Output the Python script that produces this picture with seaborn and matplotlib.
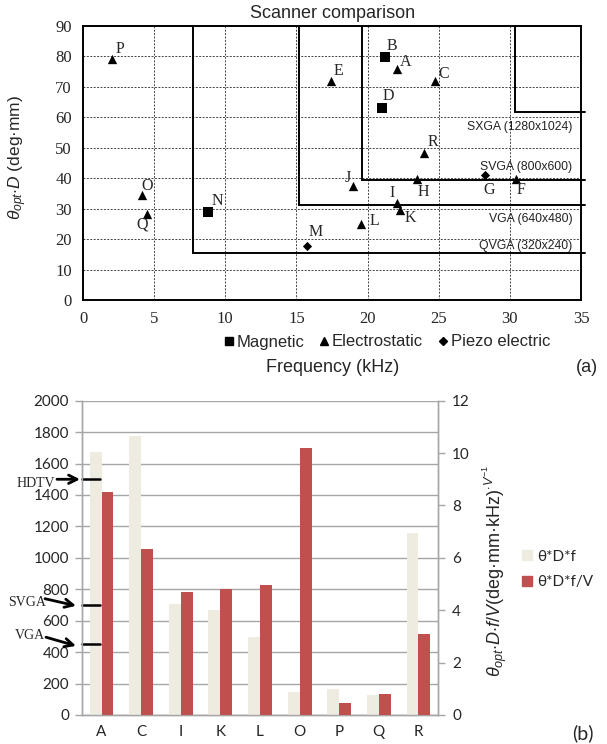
import matplotlib
matplotlib.use("Agg")
import matplotlib.pyplot as plt
import matplotlib.transforms as mtransforms
from matplotlib.lines import Line2D
import seaborn as sns
import pandas as pd

# ---------------- data: panel (a) ----------------
scanner_names = ["P", "B", "A", "E", "C", "D", "R", "G", "F", "H", "J", "O", "I", "K", "N", "Q", "L", "M"]
scanner_freq = [2.07, 21.26, 22.06, 17.42, 24.72, 20.98, 23.96, 28.25, 30.41, 23.45, 18.95, 4.16, 22.06, 22.27, 8.81, 4.49, 19.54, 15.73]
scanner_theta_d = [79.1, 79.7, 76.0, 72.0, 72.0, 63.0, 48.3, 40.9, 39.6, 39.6, 37.4, 34.6, 31.8, 29.7, 28.9, 28.4, 25.1, 17.7]
scanner_type = ["Electrostatic", "Magnetic", "Electrostatic", "Electrostatic", "Electrostatic", "Magnetic",
                "Electrostatic", "Piezo electric", "Electrostatic", "Electrostatic", "Electrostatic",
                "Electrostatic", "Electrostatic", "Electrostatic", "Magnetic", "Electrostatic",
                "Electrostatic", "Piezo electric"]
type_order = ["Magnetic", "Electrostatic", "Piezo electric"]

res_names = ["SXGA (1280x1024)", "SVGA (800x600)", "VGA (640x480)", "QVGA (320x240)"]
res_freq = [30.35, 19.6, 15.15, 7.72]
res_theta_d = [61.7, 39.3, 31.1, 15.6]
res_label_y = [56.9, 43.8, 26.6, 17.7]

# ---------------- data: panel (b) ----------------
bar_categories = ["A", "C", "I", "K", "L", "O", "P", "Q", "R"]
theta_d_f = [1675, 1778, 709, 667, 497, 148, 163, 127, 1158]
theta_d_f_v = [8.53, 6.34, 4.70, 4.80, 4.96, 10.2, 0.45, 0.80, 3.09]
series_names = ["θ*D*f", "θ*D*f/V"]
limit_names = ["HDTV", "SVGA", "VGA"]
limit_values = [1500, 700, 450]

# ---------------- style ----------------
sns.set_theme(style="white")
plt.rcParams["font.family"] = ["Liberation Sans", "DejaVu Sans"]
plt.rcParams["mathtext.fontset"] = "custom"
plt.rcParams["mathtext.rm"] = "Liberation Sans"
plt.rcParams["mathtext.it"] = "Liberation Sans:italic"
plt.rcParams["mathtext.bf"] = "Liberation Sans:bold"

W, H = 607, 744
fig = plt.figure(figsize=(W / 100, H / 100), dpi=100)
fig.patch.set_facecolor("white")

# ================= panel (a) =================
axa = fig.add_axes([83 / W, 1 - 300 / H, 498 / W, 274 / H])
df_a = pd.DataFrame({"name": scanner_names, "freq": scanner_freq,
                     "theta_d": scanner_theta_d, "type": scanner_type})
marker_map = {"Magnetic": "s", "Electrostatic": "^", "Piezo electric": "D"}
size_map = {"Magnetic": 55, "Electrostatic": 45, "Piezo electric": 22}
for t in type_order:
    sub = df_a[df_a["type"] == t]
    sns.scatterplot(data=sub, x="freq", y="theta_d", marker=marker_map[t], s=size_map[t],
                    color="black", edgecolor="black", linewidth=0, ax=axa, zorder=5, legend=False)

label_offsets = {  # pixel offsets of the letter from its marker
    "P": (8, 10), "B": (6, 11), "A": (9, 7), "E": (8, 10), "C": (9, 7), "D": (7, 12),
    "R": (9, 11), "G": (4, -15), "F": (5, -11), "H": (7, -13), "J": (-5, 8), "O": (5, 9),
    "I": (-5, 10), "K": (10, -8), "N": (9, 11), "Q": (-5, -11), "L": (13, 3), "M": (9, 14),
}
for n, fx, fy in zip(scanner_names, scanner_freq, scanner_theta_d):
    dx, dy = label_offsets[n]
    axa.annotate(n, (fx, fy), xytext=(dx, dy), textcoords="offset pixels",
                 ha="center", va="center", fontsize=11.5, family="Liberation Serif", zorder=6)

for name, fx, fy, ly in zip(res_names, res_freq, res_theta_d, res_label_y):
    axa.plot([fx, fx, 35.3], [90, fy, fy], color="black", lw=1.4, clip_on=False, zorder=4,
             solid_joinstyle="miter")
    axa.text(34.4, ly, name, ha="right", va="center", fontsize=8.8, color="#222222", zorder=6)

axa.set_xlim(0, 35)
axa.set_ylim(0, 90)
axa.set_xticks(range(0, 36, 5))
axa.set_yticks(range(0, 91, 10))
axa.grid(True, color="#444444", linestyle=(0, (2, 1.5)), linewidth=0.7)
axa.set_axisbelow(True)
for sp in axa.spines.values():
    sp.set_color("black")
    sp.set_linewidth(1.4)
axa.tick_params(axis="both", which="major", direction="out", length=5, width=1, color="black",
                labelsize=12, pad=3)
for lab in axa.get_xticklabels() + axa.get_yticklabels():
    lab.set_family("Liberation Serif")
axa.set_xlabel("")
axa.set_ylabel(r"$\theta_{opt}{\cdot}D$ (deg·mm)", fontsize=12.5)
axa.yaxis.set_label_coords(-(83 - 29) / 498, 0.52)

fig.text(333 / W, 1 - 13 / H, "Scanner comparison", ha="center", va="center", fontsize=13)
fig.text(333 / W, 1 - 367 / H, "Frequency (kHz)", ha="center", va="center", fontsize=13)
fig.text(587 / W, 1 - 367 / H, "(a)", ha="center", va="center", fontsize=13)

handles_a = [Line2D([], [], marker=marker_map[t], color="black", linestyle="none",
                    markersize={"Magnetic": 6, "Electrostatic": 6, "Piezo electric": 4}[t])
             for t in type_order]
fig.legend(handles_a, type_order, loc="center", bbox_to_anchor=(387 / W, 1 - 342 / H), ncol=3,
           frameon=False, fontsize=12, handlelength=0.6, handletextpad=0.15, columnspacing=0.9,
           borderaxespad=0, borderpad=0)

# ================= panel (b) =================
axb = fig.add_axes([81.7 / W, 1 - 715 / H, 356.6 / W, 314.3 / H])
axb2 = axb.twinx()
palette = {series_names[0]: "#EEECE1", series_names[1]: "#C0504D"}
df1 = pd.DataFrame({"cat": bar_categories, "val": theta_d_f, "series": series_names[0]})
df2 = pd.DataFrame({"cat": bar_categories, "val": theta_d_f_v, "series": series_names[1]})
sns.barplot(data=df1, x="cat", y="val", hue="series", hue_order=series_names, order=bar_categories,
            palette=palette, width=0.6, dodge=True, saturation=1, errorbar=None, ax=axb,
            legend=False, linewidth=0, zorder=3)
sns.barplot(data=df2, x="cat", y="val", hue="series", hue_order=series_names, order=bar_categories,
            palette=palette, width=0.6, dodge=True, saturation=1, errorbar=None, ax=axb2,
            legend=False, linewidth=0, zorder=3)

axb.set_ylim(0, 2000)
axb.set_yticks(range(0, 2001, 200))
axb2.set_ylim(0, 12)
axb2.set_yticks(range(0, 13, 2))
axb.set_xlim(-0.5, len(bar_categories) - 0.5)
axb2.set_xlim(-0.5, len(bar_categories) - 0.5)
axb.grid(True, axis="y", color="#A6A6A6", linewidth=1.0)
axb.grid(False, axis="x")
axb.set_axisbelow(True)
axb2.grid(False)
for a in (axb, axb2):
    a.spines["top"].set_visible(False)
    for s in ("left", "right", "bottom"):
        a.spines[s].set_color("#A6A6A6")
        a.spines[s].set_linewidth(1.0)
    a.set_xlabel("")
    a.set_ylabel("")
axb.set_xticks(range(len(bar_categories)))
axb.set_xticklabels(bar_categories)
axb.set_xticks([i - 0.5 for i in range(len(bar_categories) + 1)], minor=True)
axb.tick_params(axis="x", which="major", length=0, labelsize=11, pad=7)
axb.tick_params(axis="x", which="minor", length=5, width=1, color="#A6A6A6", direction="out")
axb.tick_params(axis="y", which="major", length=5, width=1, color="#A6A6A6", direction="out",
                labelsize=11, pad=4)
axb2.tick_params(axis="y", which="major", length=5, width=1, color="#A6A6A6", direction="out",
                 labelsize=11, pad=5, right=True, labelright=True)
for lab in axb.get_xticklabels() + axb.get_yticklabels() + axb2.get_yticklabels():
    lab.set_family("Lato")

axb2.set_ylabel(r"$\theta_{opt}{\cdot}D{\cdot}f/V$(deg·mm·kHz)$^{\cdot V^{-1}}$", fontsize=13,
                rotation=90, labelpad=6)
axb2.yaxis.set_label_coords(1 + (481 - 438.3) / 356.6, 0.46)

# resolution limits
blend = mtransforms.blended_transform_factory(axb.transAxes, axb.transData)
ax_w = 356.6
x0 = 81.7
tail_x = [57, 45, 46]
head_x = [80, 76, 76]
tail_dy = [0, 40, 45]
head_dy = [0, -5, -10]
text_x = [36, 27, 30]
text_dy = [-25, 15, 55]
for name, v, tx_, hx, tdy, hdy, tx, tdy2 in zip(limit_names, limit_values, tail_x, head_x,
                                                tail_dy, head_dy, text_x, text_dy):
    axb.plot([0, 18 / ax_w], [v, v], color="black", lw=1.8, transform=blend, clip_on=False, zorder=6)
    axb.annotate("", xy=((hx - x0) / ax_w, v + hdy), xycoords=blend,
                 xytext=((tx_ - x0) / ax_w, v + tdy), textcoords=blend,
                 arrowprops=dict(arrowstyle="->", color="black", lw=2.0, mutation_scale=15,
                                 shrinkA=0, shrinkB=0), annotation_clip=False)
    axb.text((tx - x0) / ax_w, v + tdy2, name, transform=blend, ha="center", va="center",
             fontsize=10, family="Liberation Serif", clip_on=False)

handles_b = [Line2D([], [], marker="s", color=palette[s], linestyle="none", markersize=7)
             for s in series_names]
fig.legend(handles_b, series_names, loc="center left", bbox_to_anchor=(522 / W, 1 - 569.5 / H),
           frameon=False, handlelength=0.7, handletextpad=0.3, labelspacing=0.75,
           borderaxespad=0, borderpad=0, prop={"family": "Lato", "size": 11})
fig.text(583 / W, 1 - 733 / H, "(b)", ha="center", va="center", fontsize=14, family="Lato")

fig.savefig("out.png", dpi=100, facecolor="white")
